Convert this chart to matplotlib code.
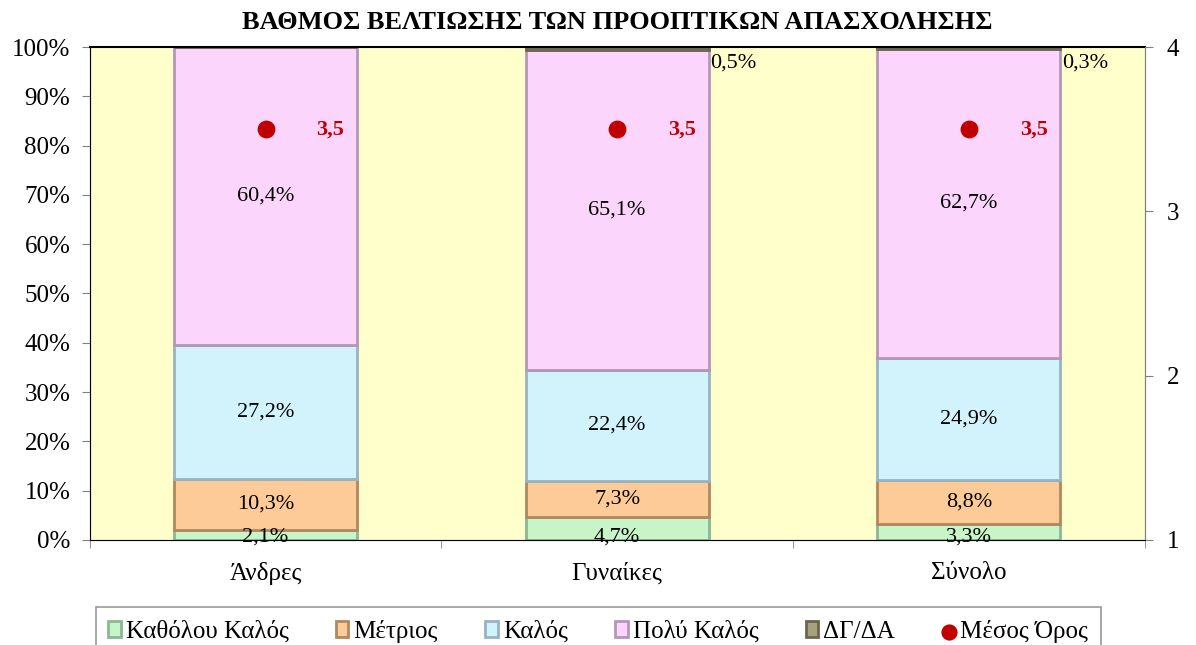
import numpy as np
import matplotlib.pyplot as plt

plt.rcParams['font.family'] = ['Liberation Serif', 'DejaVu Serif']

categories = ['Άνδρες', 'Γυναίκες', 'Σύνολο']
series_names = ['Καθόλου Καλός', 'Μέτριος', 'Καλός', 'Πολύ Καλός', 'ΔΓ/ΔΑ']
kathólou = [2.1, 4.7, 3.3]
metrios = [10.3, 7.3, 8.8]
kalos = [27.2, 22.4, 24.9]
poly_kalos = [60.4, 65.1, 62.7]
dg_da = [0.0, 0.5, 0.3]
mean_score = [3.5, 3.5, 3.5]

colors = ['#C8F5C8', '#FDCB98', '#D3F3FC', '#FBD5FB', '#A8A27C']
edges = ['#8AB894', '#B08860', '#98B4C2', '#B497B8', '#6B6650']

fig = plt.figure(figsize=(11.96, 6.45), dpi=100)
ax = fig.add_axes([0.075, 0.163, 0.882, 0.764])
ax.set_facecolor('#FFFFCC')

x = np.arange(len(categories))
data = [kathólou, metrios, kalos, poly_kalos, dg_da]
bottom = np.zeros(len(categories))
width = 0.52
for i, vals in enumerate(data):
    vals = np.array(vals)
    ax.bar(x, vals, width, bottom=bottom, color=colors[i], edgecolor=edges[i],
           linewidth=2, label=series_names[i], zorder=2)
    for j, v in enumerate(vals):
        lbl = ('%.1f%%' % v).replace('.', ',')
        if i == 4:
            if v > 0:
                ax.text(x[j] + width / 2 + 0.005, 96.8, lbl, ha='left', va='center',
                        fontsize=16, zorder=5)
        elif i == 0:
            ax.text(x[j], 0.5, lbl, ha='center', va='center', fontsize=16, zorder=5)
        else:
            ax.text(x[j], bottom[j] + v / 2, lbl, ha='center', va='center',
                    fontsize=16, zorder=5)
    bottom += vals

ax.set_xlim(-0.5, 2.5)
ax.set_ylim(0, 100)
ax.set_yticks(np.arange(0, 101, 10))
ax.set_yticklabels(['%d%%' % t for t in range(0, 101, 10)], fontsize=18)
ax.set_xticks(x)
ax.set_xticklabels(categories, fontsize=18)
ax.tick_params(axis='x', length=0, pad=16)
ax.set_xticks([-0.5, 0.5, 1.5, 2.5], minor=True)
ax.tick_params(axis='x', which='minor', length=6, color='#808080')
ax.tick_params(axis='y', length=6, color='#808080', pad=8)
for s in ['left', 'bottom', 'right']:
    ax.spines[s].set_color('#808080')
ax.spines['top'].set_color('black')
ax.spines['top'].set_linewidth(1.5)

ax2 = ax.twinx()
ax2.set_ylim(1, 4)
ax2.set_yticks([1, 2, 3, 4])
ax2.set_yticklabels(['1', '2', '3', '4'], fontsize=18)
ax2.tick_params(axis='y', length=6, color='#808080', pad=10)
ax2.spines['right'].set_color('#808080')
ax2.spines['top'].set_visible(False)
ax2.scatter(x, mean_score, s=140, color='#C00000', zorder=6, label='Μέσος Όρος')
for j, m in enumerate(mean_score):
    ax2.text(x[j] + 0.145, m, ('%.1f' % m).replace('.', ','), color='#C00000',
             fontweight='bold', fontsize=16, ha='left', va='center')

ax.set_title('ΒΑΘΜΟΣ ΒΕΛΤΙΩΣΗΣ ΤΩΝ ΠΡΟΟΠΤΙΚΩΝ ΑΠΑΣΧΟΛΗΣΗΣ', fontsize=19,
             fontweight='bold', pad=13)

h1, l1 = ax.get_legend_handles_labels()
h2, l2 = ax2.get_legend_handles_labels()
leg = fig.legend(h1 + h2, l1 + l2, loc='lower center', ncol=6,
                 bbox_to_anchor=(0.5, -0.035), fontsize=18, frameon=True,
                 fancybox=False, edgecolor='#808080', handlelength=0.5,
                 handleheight=0.6, handletextpad=0.2, columnspacing=1.9,
                 borderpad=0.5, markerscale=0.9)
leg.get_frame().set_linewidth(1.2)

fig.savefig('out.png', dpi=100)
